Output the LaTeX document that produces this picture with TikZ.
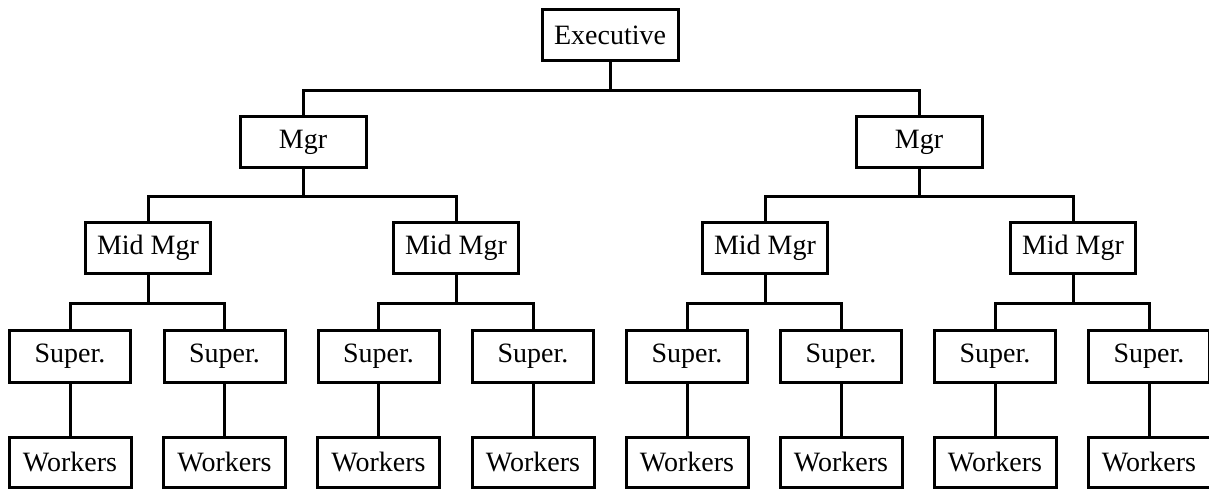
\documentclass[tikz,border=0pt]{standalone}
\usepackage{fontspec}
\setmainfont{Liberation Serif}
\begin{document}
\begin{tikzpicture}[x=0.5pt,y=-0.5pt,line width=1.5pt,
    box/.style={draw,inner sep=0pt,minimum height=25.5pt,font=\fontsize{14}{16}\selectfont}]
  \useasboundingbox (0,0) rectangle (1209,488);
  % top levels
  \node[box,minimum width=68pt] (exec) at (610,35) {Executive};
  \node[box,minimum width=63pt] (mgrA) at (303,142) {Mgr};
  \node[box,minimum width=63pt] (mgrB) at (919,142) {Mgr};
  \foreach \i/\x in {1/148,2/456,3/765,4/1073}
    \node[box,minimum width=62.5pt] (mid\i) at (\x,248) {Mid Mgr};
  % supervisors and workers
  \foreach \i/\x in {1/70,2/224.5,3/378.5,4/533,5/687,6/841,7/995,8/1149} {
    \node[box,minimum width=60.5pt,minimum height=26pt] (sup\i) at (\x,356) {Super.};
    \node[box,minimum width=61pt,minimum height=25pt] (wrk\i) at (\x,462) {Workers};
    \draw (sup\i) -- (wrk\i);
  }
  % connectors
  \draw (exec.south) -- ++(0,28) -| (mgrA.north);
  \draw (exec.south) -- ++(0,28) -| (mgrB.north);
  \foreach \m/\c in {mgrA/1,mgrA/2,mgrB/3,mgrB/4}
    \draw (\m.south) -- ++(0,27) -| (mid\c.north);
  \foreach \c/\s in {1/1,1/2,2/3,2/4,3/5,3/6,4/7,4/8}
    \draw (mid\c.south) -- ++(0,28) -| (sup\s.north);
\end{tikzpicture}
\end{document}
